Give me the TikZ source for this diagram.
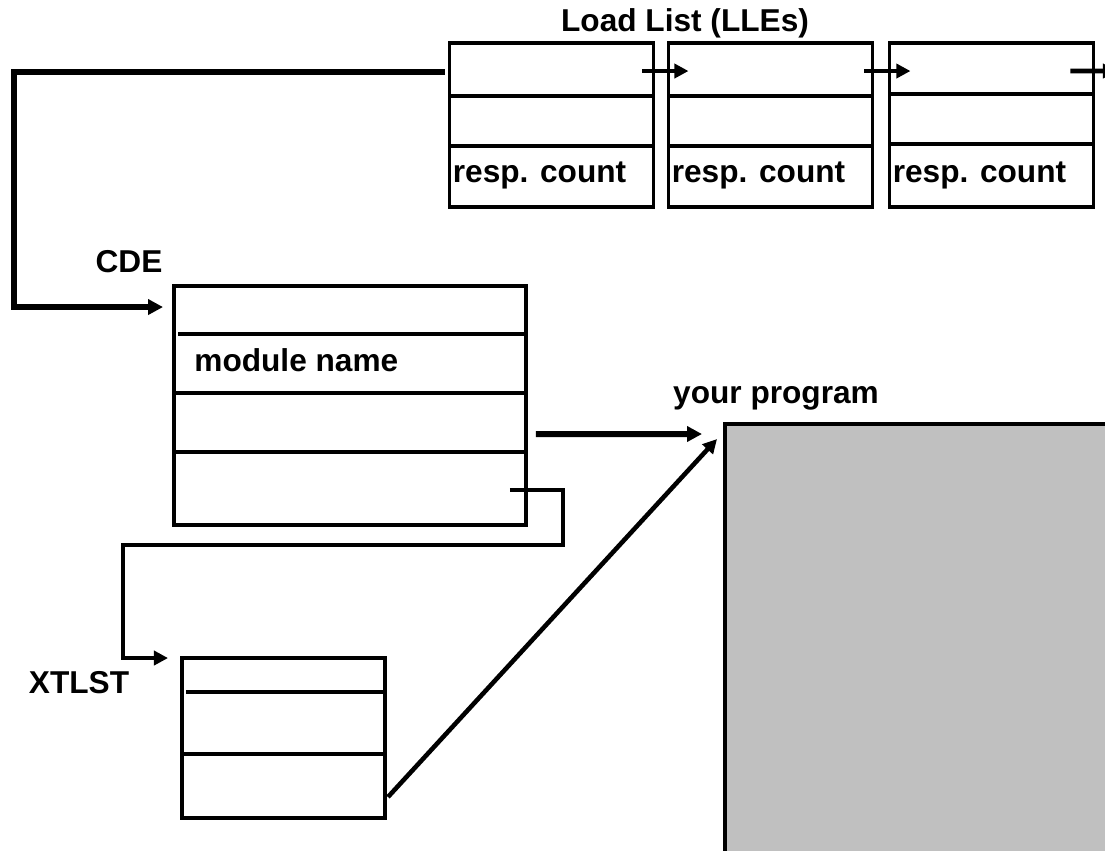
\documentclass[tikz,border=0pt]{standalone}
\usepackage{fontspec}
\setmainfont{Liberation Sans}
\usetikzlibrary{positioning, calc, arrows.meta}

\begin{document}
\begin{tikzpicture}[x=0.02cm, y=-0.02cm,
  every node/.style={font=\bfseries\fontsize{18}{22}\selectfont},
  cell/.style={draw, line width=2pt, inner sep=0pt, outer sep=0pt},
  lle/.style={cell, minimum width=4.08cm, minimum height=3.28cm},
  txt/.style={anchor=base west, inner sep=0pt},
  div/.style={line width=2pt},
  ptr/.style={line width=2.6pt, -{Triangle[length=8pt, width=8pt]}},
  bigptr/.style={line width=3.4pt, -{Triangle[length=8.5pt, width=8.5pt]}},
  node distance=0.3cm]

  \clip (0,0) rectangle (1105,850);

  % Load list entries
  \node[lle] (L1) at (551.5,125) {};
  \node[lle, right=of L1] (L2) {};
  \node[lle, right=0.34cm of L2] (L3) {};
  \node[anchor=base] (title) at (685,31) {Load List (LLEs)};

  \draw[div] ($(L1.north west)+(0,53)$) -- ($(L1.north east)+(0,53)$);
  \draw[div] ($(L1.north west)+(0,103)$) -- ($(L1.north east)+(0,103)$);
  \draw[div] ($(L2.north west)+(0,53)$) -- ($(L2.north east)+(0,53)$);
  \draw[div] ($(L2.north west)+(0,103)$) -- ($(L2.north east)+(0,103)$);
  \draw[div] ($(L3.north west)+(0,51)$) -- ($(L3.north east)+(0,51)$);
  \draw[div] ($(L3.north west)+(0,101)$) -- ($(L3.north east)+(0,101)$);

  \node[txt] (c1) at ($(L1.south west)+(3,-24)$) {resp. count};
  \node[txt] (c2) at ($(L2.south west)+(3,-24)$) {resp. count};
  \node[txt] (c3) at ($(L3.south west)+(3,-24)$) {resp. count};

  % Chain pointers
  \coordinate (next) at (1117,71);
  \draw[ptr] ($(L1.north east)+(-11,28)$) -- ($(L2.north west)+(20,28)$);
  \draw[ptr] ($(L2.north east)+(-8,28)$) -- ($(L3.north west)+(21,28)$);
  \draw[ptr] ($(L3.north east)+(-23,28)$) -- (next);

  % CDE
  \node[cell, minimum width=7.04cm, minimum height=4.78cm] (CDE) at (350,405.5) {};
  \node[anchor=base] (cdelbl) at (129,272) {CDE};
  \draw[div] ($(CDE.north west)+(4,48)$) -- ($(CDE.north east)+(0,48)$);
  \draw[div] ($(CDE.north west)+(0,107)$) -- ($(CDE.north east)+(0,107)$);
  \draw[div] ($(CDE.north west)+(0,166)$) -- ($(CDE.north east)+(0,166)$);
  \node[txt] (modname) at ($(CDE.north west)+(20,85)$) {module name};

  % Your program
  \node[cell, fill={rgb,255:red,192;green,192;blue,192}, anchor=north west,
        minimum width=8.4cm, minimum height=9.2cm] (prog) at (725,424) {};
  \node[anchor=base] (proglbl) at (776,403) {your program};

  % XTLST
  \node[cell, minimum width=4.06cm, minimum height=3.2cm] (XT) at (283.5,738) {};
  \node[anchor=base] (xtlbl) at (79,693) {XTLST};
  \draw[div] ($(XT.north west)+(4,34)$) -- ($(XT.north east)+(0,34)$);
  \draw[div] ($(XT.north west)+(0,96)$) -- ($(XT.north east)+(0,96)$);

  % Pointers
  \draw[bigptr] ($(L1.north west)+(-5,29)$) -- ++(-431,0) |- ($(CDE.north west)+(-11,21)$);
  \draw[bigptr] ($(CDE.north east)+(10,148)$) -- ($(prog.north west)+(-23,10)$);
  \draw[ptr] ($(CDE.south east)+(-16,-35)$) -- ++(53,0) -- ++(0,55) -- ++(-440,0)
    |- ($(XT.north west)+(-14,0)$);
  \draw[ptr] ($(XT.south east)+(3,-21)$) -- ($(prog.north west)+(-8,15)$);

\end{tikzpicture}
\end{document}
